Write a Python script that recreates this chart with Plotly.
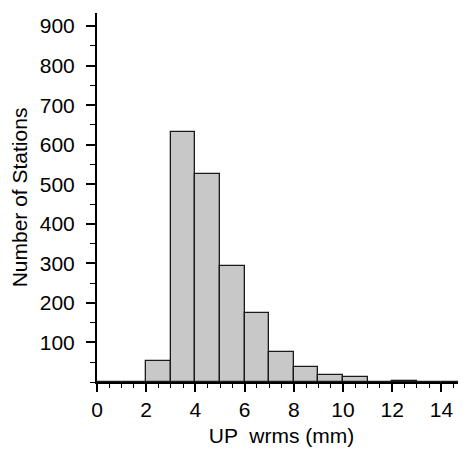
import plotly.graph_objects as go

bin_left = [0, 1, 2, 3, 4, 5, 6, 7, 8, 9, 10, 11, 12, 13, 14]
counts = [1, 1, 52, 631, 527, 293, 175, 77, 38, 17, 12, 1, 3, 1, 1]
y_ticks = [100, 200, 300, 400, 500, 600, 700, 800, 900]
x_ticks = [0, 2, 4, 6, 8, 10, 12, 14]

centers = [b + 0.5 for b in bin_left]

fig = go.Figure()
fig.add_trace(go.Bar(
    x=centers, y=counts, width=[1] * len(centers),
    marker=dict(color="#c8c8c8", line=dict(color="#1a1a1a", width=1.3)),
))

font = dict(family="Liberation Sans, Arial, sans-serif", size=21, color="black")
# page has an 8px body margin; figure size/margins compensate for it
fig.update_layout(
    width=458, height=442,
    margin=dict(l=89, r=0, t=5, b=68),
    plot_bgcolor="white", paper_bgcolor="white",
    showlegend=False, bargap=0,
    font=font,
    xaxis=dict(
        range=[0, 15], tickvals=x_ticks, ticks="outside", ticklen=8, tickwidth=1.5,
        tickcolor="black", showline=True, linecolor="black", linewidth=2,
        showgrid=False, zeroline=False, automargin=False,
        minor=dict(dtick=0.5, tick0=0, ticks="outside", ticklen=4, tickwidth=1, tickcolor="black"),
        title=dict(text="UP  wrms (mm)", font=font, standoff=8),
        tickfont=font,
    ),
    yaxis=dict(
        range=[0, 933], tickvals=y_ticks, ticks="outside", ticklen=9, tickwidth=1.5,
        tickcolor="black", showline=True, linecolor="black", linewidth=2,
        showgrid=False, zeroline=False, automargin=False, ticklabelstandoff=7,
        minor=dict(dtick=50, tick0=0, ticks="outside", ticklen=5, tickwidth=1, tickcolor="black"),
        title=dict(text="Number of Stations", font=font, standoff=8),
        tickfont=font,
    ),
)

fig.write_html("out.html")
